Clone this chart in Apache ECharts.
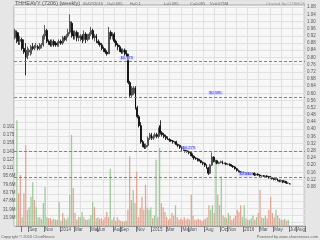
<!DOCTYPE html>
<html><head><meta charset="utf-8">
<script src="https://cdn.jsdelivr.net/npm/echarts@6/dist/echarts.min.js"></script>
<style>html,body{margin:0;padding:0;background:#e6e6e6}#c{width:320px;height:240px}</style>
</head><body><div id="c"></div>
<script>
// weekly OHLC, week 0 = week of 15 Jul 2013, last = week of 4 Jul 2016
const openP = [.91,.94,.93,.89,.90,.85,.83,.80,.83,.82,.86,.85,.86,.86,.85,.86,.87,.92,.95,.89,
.88,.87,.89,.88,.87,.88,.89,.88,.91,.90,.92,.94,.99,.93,.92,.94,.91,.90,.92,.90,
.93,.90,.91,.93,.95,.91,.92,.89,.88,.87,.85,.84,.83,.82,.94,.92,.93,.89,.87,.86,
.84,.83,.84,.82,.81,.66,.59,.60,.63,.52,.47,.42,.33,.31,.30,.31,.35,.37,.35,.36,
.37,.36,.42,.38,.37,.36,.35,.345,.34,.335,.325,.33,.315,.31,.30,.29,.285,.28,.275,.27,
.26,.25,.24,.235,.23,.225,.215,.21,.20,.185,.155,.20,.245,.22,.225,.21,.215,.22,.21,.21,
.205,.205,.20,.195,.19,.18,.17,.165,.16,.155,.155,.15,.155,.15,.15,.155,.145,.15,.145,.14,
.14,.135,.14,.135,.135,.13,.125,.12,.125,.115,.11,.115,.105,.11,.10,.095];
const closeP = [.95,.91,.89,.90,.85,.83,.80,.84,.84,.86,.85,.86,.86,.85,.87,.87,.92,.95,.89,.88,
.87,.89,.87,.87,.88,.89,.88,.91,.90,.92,.94,1.00,.93,.92,.94,.91,.92,.92,.90,.93,
.90,.91,.93,.95,.91,.92,.89,.88,.87,.85,.84,.83,.82,.94,.92,.93,.89,.87,.86,.84,
.83,.84,.82,.81,.66,.59,.63,.63,.52,.47,.42,.33,.31,.30,.31,.35,.37,.35,.36,.37,
.36,.40,.38,.37,.36,.35,.345,.34,.335,.33,.33,.315,.31,.30,.29,.285,.28,.275,.27,.26,
.25,.24,.235,.23,.225,.215,.21,.20,.185,.155,.20,.245,.22,.225,.21,.215,.22,.21,.21,.205,
.205,.20,.195,.19,.18,.17,.165,.16,.16,.16,.15,.155,.15,.15,.155,.145,.15,.145,.14,.142,
.14,.14,.135,.13,.13,.125,.12,.125,.115,.11,.115,.105,.11,.10,.10,.095];
const lowP = [.90,.88,.87,.87,.84,.82,.70,.79,.81,.81,.84,.84,.85,.84,.84,.85,.86,.90,.88,.87,
.86,.86,.86,.86,.86,.86,.87,.87,.89,.89,.91,.93,.91,.90,.90,.89,.89,.89,.88,.89,
.88,.89,.90,.92,.90,.89,.88,.87,.86,.84,.83,.82,.81,.82,.90,.90,.88,.86,.84,.83,
.82,.82,.81,.80,.65,.58,.58,.59,.51,.46,.41,.32,.30,.29,.29,.30,.34,.34,.34,.35,
.35,.35,.37,.36,.35,.34,.34,.33,.33,.32,.32,.31,.30,.29,.28,.28,.27,.27,.26,.25,
.24,.23,.23,.22,.22,.21,.20,.19,.18,.145,.15,.195,.215,.21,.205,.205,.21,.205,.205,.20,
.20,.195,.19,.185,.175,.165,.16,.155,.155,.15,.145,.145,.145,.145,.145,.14,.14,.14,.135,.135,
.135,.13,.13,.125,.125,.12,.115,.115,.11,.105,.105,.10,.10,.095,.095,.095];
const highP = [.96,.95,.94,.92,.91,.90,.88,.86,.85,.87,.88,.87,.88,.87,.88,.88,.93,.98,.96,.90,
.90,.90,.90,.89,.89,.90,.90,.92,.92,.93,.96,1.04,1.00,.95,.95,.95,.94,.93,.93,.95,
.94,.93,.94,.97,.96,.93,.93,.90,.89,.88,.86,.85,.84,.97,.95,.94,.94,.90,.88,.87,
.85,.85,.85,.84,.82,.67,.64,.64,.64,.53,.48,.44,.34,.32,.32,.36,.38,.38,.37,.38,
.38,.41,.45,.39,.38,.37,.36,.35,.345,.34,.335,.335,.32,.315,.305,.295,.29,.285,.28,.275,
.265,.255,.245,.24,.235,.23,.22,.215,.205,.19,.205,.27,.25,.23,.23,.22,.225,.225,.215,.215,
.21,.21,.205,.20,.195,.185,.175,.17,.165,.165,.16,.16,.16,.155,.16,.16,.155,.155,.15,.145,
.145,.145,.145,.14,.14,.135,.13,.13,.125,.12,.12,.115,.115,.11,.105,.1];
// weekly volume, millions of shares
const volumeM = [203,63,98,17,63,155,31,36,56,84,50,36,17,17,13,44,75,17,15,15,
12,14,12,12,46,10,25,16,12,17,60,175,73,25,12,17,17,27,17,12,
12,14,21,46,36,15,17,14,15,12,17,27,17,110,12,17,10,17,12,10,
9,9,10,31,134,50,69,44,104,17,35,56,31,79,35,31,36,15,20,127,
17,150,44,36,27,17,12,15,25,20,40,17,12,14,12,17,12,15,12,60,
20,12,12,14,12,10,12,14,17,40,31,40,25,121,60,40,95,20,17,15,
25,20,12,15,20,31,27,40,17,40,15,12,12,15,20,12,17,25,69,17,
15,20,15,31,56,25,17,31,20,15,12,12,14,10,12,0.675];
// x-axis month ticks (week index) and their labels
const tickIdx = [3,7,16,25,33,42,46,55,59,68,77,85,94,98,107,116,120,129,138,146,155,159];
const tickText = ['Aug','Sep','Nov','2014','Mar','May','Jun','Aug','Sep','Nov','2015','Mar','May','Jun','Aug','Oct','Nov','2016','Mar','May','Jul','Aug'];
// retracement levels and the week at which their labels sit
const priceLevels = [0.779, 0.585, 0.279, 0.132];
const levelLabelAt = [59, 109, 94, 126];
const totalWeeks = 164;

const categories = [];
const t0 = Date.UTC(2013, 6, 15);
for (let i = 0; i < totalWeeks; i++) {
  const d = new Date(t0 + i * 7 * 86400000);
  categories.push(d.toISOString().slice(0, 10));
}
const candles = openP.map((o, i) => [o, closeP[i], lowP[i], highP[i]]);
const vols = volumeM.map((v, i) => ({
  value: v,
  itemStyle: { color: closeP[i] >= openP[i] ? '#9fc99a' : '#e3a693' }
}));
const last = openP.length - 1;
const FF = 'Liberation Sans';
const small = { fontSize: 4, color: '#666', fontWeight: 'normal', fontFamily: FF };
const isTick = (idx) => tickIdx.indexOf(idx) >= 0;

const chart = echarts.init(document.getElementById('c'), null, { renderer: 'canvas' });
chart.setOption({
  animation: false,
  backgroundColor: '#e6e6e6',
  title: [
    { text: 'THHEAVY (7206) (weekly)', left: 15, top: 0.5, padding: 0, textStyle: { fontSize: 5.5, color: '#555', fontWeight: 'normal', fontFamily: FF } },
    { text: '05/07/2016', left: 83, top: 1.5, padding: 0, textStyle: small },
    { text: 'O=' + openP[last], left: 107, top: 1.5, padding: 0, textStyle: small },
    { text: 'H=' + highP[last], left: 130, top: 1.5, padding: 0, textStyle: small },
    { text: 'L=' + lowP[last], left: 164, top: 1.5, padding: 0, textStyle: small },
    { text: 'C=' + closeP[last], left: 190, top: 1.5, padding: 0, textStyle: small },
    { text: 'V=' + volumeM[last] + 'M', left: 210, top: 1.5, padding: 0, textStyle: small },
    { text: 'Charted By CITEHOS', right: 15, top: 1.5, padding: 0, textStyle: { fontSize: 4, color: '#999', fontWeight: 'normal', fontFamily: FF } },
    { text: 'Copyright \u00a9 2016 ChartNexus', left: 1, top: 234.5, padding: 0, textStyle: small },
    { text: 'Powered by www.sharenexus.com', right: 2, top: 234.5, padding: 0, textStyle: small }
  ],
  grid: [
    { left: 14, right: 15, top: -0.6, height: 223.2 },
    { left: 14, right: 15, top: 120, height: 106 },
    { left: 14, right: 15, top: 5, height: 221, show: true, backgroundColor: '#f7f7f7', borderColor: '#a8a8a8', borderWidth: 1 }
  ],
  xAxis: [
    { type: 'category', gridIndex: 0, data: categories, boundaryGap: true,
      axisLine: { show: false }, axisTick: { show: false }, axisLabel: { show: false }, splitLine: { show: false } },
    { type: 'category', gridIndex: 1, data: categories, boundaryGap: true,
      axisLine: { show: true, lineStyle: { color: '#999', width: 1 } },
      axisTick: { show: true, interval: isTick, length: 6, lineStyle: { color: '#777', width: 1 } },
      axisLabel: { show: true, interval: isTick, formatter: (v, idx) => tickText[tickIdx.indexOf(idx)] || '',
        align: 'left', margin: 1.5, fontSize: 4.5, color: '#555', fontFamily: FF },
      splitLine: { show: false } },
    { type: 'value', gridIndex: 2, min: 0, max: 26.17, interval: 1,
      axisLine: { show: false }, axisTick: { show: false }, axisLabel: { show: false },
      splitLine: { show: true, lineStyle: { color: '#e1e1e1', width: 1 } } }
  ],
  yAxis: [
    { type: 'value', gridIndex: 0, position: 'right', min: -0.12, max: 1.12, interval: 0.04,
      axisLine: { show: false }, axisTick: { show: false },
      axisLabel: { show: true, showMaxLabel: false, showMinLabel: false, margin: 2, fontSize: 4.5, color: '#555', fontFamily: FF,
        formatter: v => v < 0.075 ? '' : v.toFixed(2) },
      splitLine: { show: true, lineStyle: { color: '#e1e1e1', width: 1 } } },
    { type: 'value', gridIndex: 1, position: 'left', min: 0, max: 203.5, interval: 15.927,
      axisLine: { show: false }, axisTick: { show: false },
      axisLabel: { show: true, showMaxLabel: false, align: 'left', margin: 13, fontSize: 4.5, color: '#555', fontFamily: FF,
        formatter: v => v <= 0 ? '' : (v < 100 ? v.toFixed(1) + 'M' : (v / 1000).toFixed(3)) },
      splitLine: { show: false } },
    { type: 'value', gridIndex: 2, min: 0, max: 1, show: false }
  ],
  series: [
    { type: 'bar', xAxisIndex: 1, yAxisIndex: 1, data: vols, barWidth: 1.3, silent: true, z: 1 },
    { type: 'candlestick', xAxisIndex: 0, yAxisIndex: 0, data: candles, barWidth: 1.4, silent: true, z: 3,
      itemStyle: { color: '#8a8a8a', color0: '#000', borderColor: '#3a3a3a', borderColor0: '#000', borderWidth: 0.8 },
      markLine: { silent: true, symbol: ['none', 'none'], label: { show: false },
        lineStyle: { color: '#7575ff', type: [3, 2], width: 1 },
        data: priceLevels.map(v => ({ yAxis: v })) },
      markPoint: { silent: true, symbol: 'rect', symbolSize: 0.1,
        label: { show: true, position: 'right', distance: 0, offset: [0, -3], fontSize: 4, color: '#3030ff', fontFamily: FF,
          backgroundColor: 'rgba(205,205,255,0.7)', padding: [0, 1],
          formatter: p => '$' + priceLevels[p.dataIndex].toFixed(3) },
        data: priceLevels.map((v, k) => ({ coord: [categories[levelLabelAt[k]], v], value: v })) } }
  ]
});
</script></body></html>
